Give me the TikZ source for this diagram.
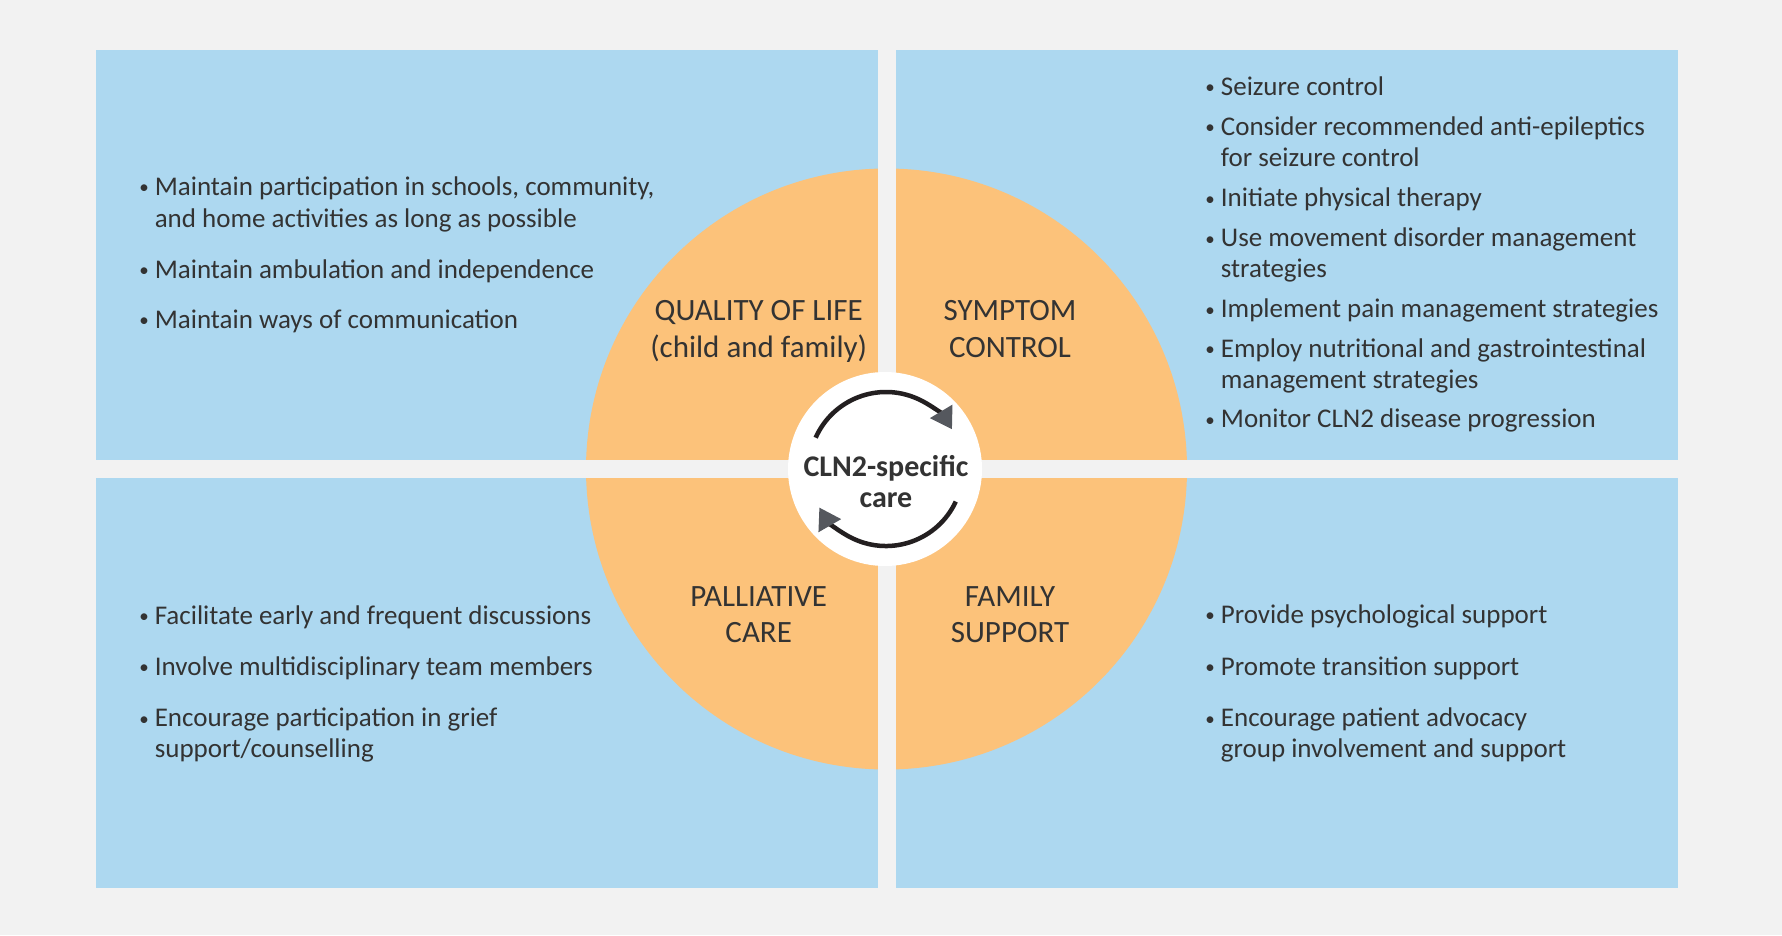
\documentclass[tikz,border=0pt]{standalone}
\usepackage{fontspec}
\setmainfont{Carlito}
\usetikzlibrary{arrows.meta}
\definecolor{bggray}{RGB}{242,242,242}
\definecolor{boxblue}{RGB}{173,216,240}
\definecolor{ringorange}{RGB}{252,194,122}
\definecolor{txtgray}{RGB}{51,51,51}
\definecolor{tipgray}{RGB}{85,88,94}
\definecolor{arcblack}{RGB}{35,31,32}
\newcommand\bulitem[1]{\llap{\raisebox{1.5pt}{\fontsize{19}{19}\selectfont •}\hspace{6pt}}\begin{tabular}[t]{@{}l@{}}#1\end{tabular}}
\newcommand\lbltext[1]{\begin{tabular}[t]{@{}c@{}}#1\end{tabular}}
\begin{document}
\begin{tikzpicture}[x=1pt,y=-1pt,
  quadbox/.style={fill=boxblue,draw=none},
  itemL/.style={anchor=base west,inner sep=0pt,text=txtgray,font=\fontsize{27}{32}\selectfont},
  itemR/.style={anchor=base west,inner sep=0pt,text=txtgray,font=\fontsize{27}{31}\selectfont},
  quadlabel/.style={anchor=base,inner sep=0pt,text=txtgray,font=\fontsize{31}{36.5}\selectfont},
  cyclearc/.style={draw=arcblack,line width=4.5pt,-{Triangle[length=21pt,width=25pt,color=tipgray]}}]
\fill[bggray] (0,0) rectangle (1782,935);
\useasboundingbox (0,0) rectangle (1782,935);
% quadrant boxes
\fill[quadbox] (96,50) rectangle (878,460);
\fill[quadbox] (895.5,50) rectangle (1678,460);
\fill[quadbox] (96,478) rectangle (878,888);
\fill[quadbox] (895.5,478) rectangle (1678,888);
% orange disc
\fill[ringorange] (886.5,469) circle[radius=300.5];
% gaps
\fill[bggray] (878,160) rectangle (895.5,780);
\fill[bggray] (580,460) rectangle (1195,478);
% white centre
\fill[white] (885,469) circle[radius=97];
% cycle arrows
\draw[cyclearc] (886,469) ++(-156:77) arc[start angle=-156,end angle=-31,radius=77];
\draw[cyclearc] (886,469) ++(25:77) arc[start angle=25,end angle=150,radius=77];
\node[anchor=base,inner sep=0pt,text=txtgray,font=\fontsize{30}{31}\selectfont\bfseries] (centre) at (886,476) {\lbltext{CLN2-specific\\care}};
% quadrant labels
\node[quadlabel] (qol) at (758.7,320.5) {\lbltext{QUALITY OF LIFE\\(child and family)}};
\node[quadlabel] (sym) at (1010,320.5) {\lbltext{SYMPTOM\\CONTROL}};
\node[quadlabel] (pal) at (758.7,606) {\lbltext{PALLIATIVE\\CARE}};
\node[quadlabel] (fam) at (1010,606) {\lbltext{FAMILY\\SUPPORT}};
% top-left items
\node[itemL] (tl1) at (154.6,195.2) {\bulitem{Maintain participation in schools, community,\\and home activities as long as possible}};
\node[itemL] (tl2) at (154.6,278.2) {\bulitem{Maintain ambulation and independence}};
\node[itemL] (tl3) at (154.6,328.4) {\bulitem{Maintain ways of communication}};
% top-right items
\node[itemR] (tr1) at (1220.7,95.3) {\bulitem{Seizure control}};
\node[itemR] (tr2) at (1220.7,135) {\bulitem{Consider recommended anti-epileptics\\for seizure control}};
\node[itemR] (tr3) at (1220.7,206.7) {\bulitem{Initiate physical therapy}};
\node[itemR] (tr4) at (1220.7,246.7) {\bulitem{Use movement disorder management\\strategies}};
\node[itemR] (tr5) at (1220.7,317.7) {\bulitem{Implement pain management strategies}};
\node[itemR] (tr6) at (1220.7,357) {\bulitem{Employ nutritional and gastrointestinal\\management strategies}};
\node[itemR] (tr7) at (1220.7,427.7) {\bulitem{Monitor CLN2 disease progression}};
% bottom-left items
\node[itemR] (bl1) at (154.6,624) {\bulitem{Facilitate early and frequent discussions}};
\node[itemR] (bl2) at (154.6,675) {\bulitem{Involve multidisciplinary team members}};
\node[itemR] (bl3) at (154.6,726.7) {\bulitem{Encourage participation in grief\\support/counselling}};
% bottom-right items
\node[itemR] (br1) at (1220.7,623) {\bulitem{Provide psychological support}};
\node[itemR] (br2) at (1220.7,675) {\bulitem{Promote transition support}};
\node[itemR] (br3) at (1220.7,726.7) {\bulitem{Encourage patient advocacy\\group involvement and support}};
\end{tikzpicture}
\end{document}
